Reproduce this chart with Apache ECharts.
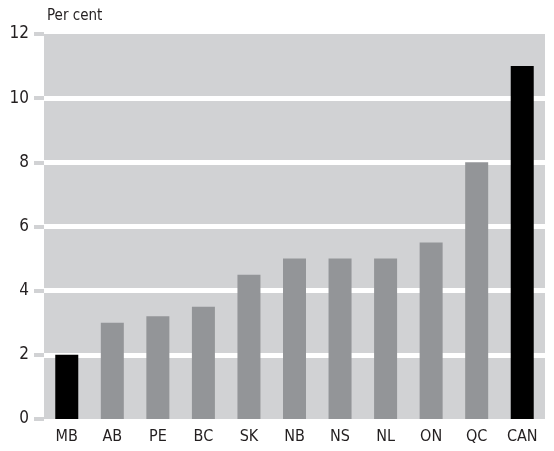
<!DOCTYPE html>
<html>
<head>
<meta charset="utf-8">
<script src="https://cdn.jsdelivr.net/npm/echarts@6/dist/echarts.min.js"></script>
<style>
  html, body { margin: 0; padding: 0; background: #fff; }
  #chart { width: 554px; height: 451px; }
</style>
</head>
<body>
<div id="chart"></div>
<script>
const provinces = ['MB', 'AB', 'PE', 'BC', 'SK', 'NB', 'NS', 'NL', 'ON', 'QC', 'CAN'];
const rates = [2, 3, 3.2, 3.5, 4.5, 5, 5, 5, 5.5, 8, 11];
const highlighted = ['MB', 'CAN'];

const FONT = '"Liberation Sans Narrow", "DejaVu Sans Condensed", sans-serif';

const chart = echarts.init(document.getElementById('chart'));
chart.setOption({
  animation: false,
  textStyle: { fontFamily: FONT },
  title: {
    text: 'Per cent',
    left: 42,
    top: 4,
    textStyle: { fontFamily: FONT, fontSize: 15, fontWeight: 'normal', color: '#231f20' }
  },
  grid: {
    left: 44, right: 9, top: 34, bottom: 32,
    show: true,
    backgroundColor: '#d1d2d4',
    borderWidth: 0
  },
  xAxis: {
    type: 'category',
    data: provinces,
    axisLine: { show: false },
    axisTick: { show: false },
    axisLabel: { color: '#231f20', fontSize: 16, margin: 10, fontFamily: FONT }
  },
  yAxis: {
    type: 'value',
    min: 0,
    max: 12,
    interval: 2,
    axisLine: { show: false },
    axisTick: { show: true, length: 10, lineStyle: { color: '#d1d2d4', width: 4 } },
    axisLabel: { color: '#231f20', fontSize: 17, margin: 15, fontFamily: FONT },
    splitLine: {
      show: true,
      showMinLine: false,
      showMaxLine: false,
      lineStyle: { color: '#ffffff', width: 5 }
    }
  },
  series: [{
    type: 'bar',
    barWidth: 23,
    data: provinces.map((p, i) => ({
      value: rates[i],
      itemStyle: { color: highlighted.includes(p) ? '#000000' : '#939598' }
    }))
  }]
});
</script>
</body>
</html>
